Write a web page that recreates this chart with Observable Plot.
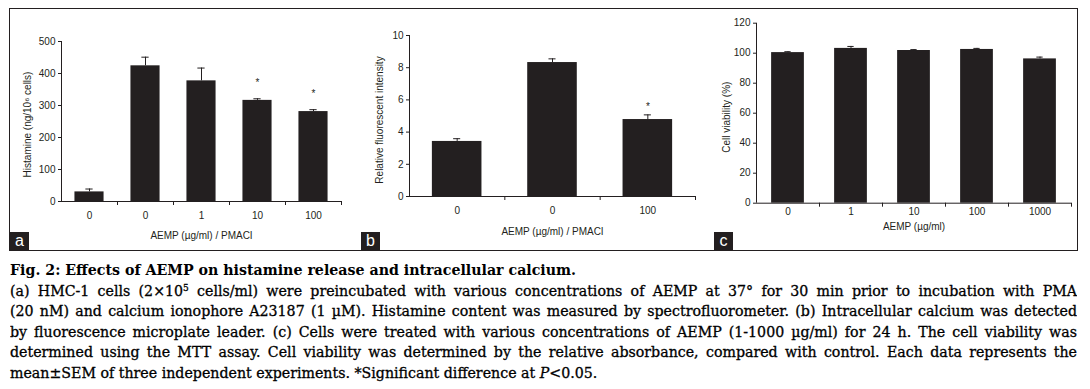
<!DOCTYPE html>
<html>
<head>
<meta charset="utf-8">
<script src="https://cdn.jsdelivr.net/npm/d3@7"></script>
<script src="https://cdn.jsdelivr.net/npm/@observablehq/plot@0.6"></script>
<style>
  html, body { margin: 0; padding: 0; background: #fff; }
  #root { position: relative; width: 1090px; height: 389px; overflow: hidden; background: #fff; }
  #box { position: absolute; left: 9px; top: 8px; width: 1069px; height: 243px; box-sizing: border-box; border: 1.5px solid #231f20; }
  .panel { position: absolute; top: 10px; }
  .plab { position: absolute; top: 232px; width: 19px; height: 18px; background: #231f20; color: #fff;
          font-family: "Liberation Sans", Arial, sans-serif; font-size: 16px; line-height: 18px; text-align: center; z-index: 5; }
  #caption { position: absolute; left: 10px; top: 260px; width: 1067px; font-family: "DejaVu Serif", serif;
             font-size: 14.2px; line-height: 20.6px; color: #000; -webkit-text-stroke: 0.3px #000; }
  #caption .j { text-align: justify; text-align-last: justify; white-space: nowrap; overflow: hidden; }
  #caption .t { font-weight: bold; -webkit-text-stroke: 0; }
  sup { font-size: 9px; line-height: 0; vertical-align: 5px; }
</style>
</head>
<body>
<div id="root">
  <div id="box"></div>
  <div id="pa" class="panel" style="left:10px"></div>
  <div id="pb" class="panel" style="left:361px"></div>
  <div id="pc" class="panel" style="left:714px"></div>
  <div class="plab" style="left:10px">a</div>
  <div class="plab" style="left:361px">b</div>
  <div class="plab" style="left:714px">c</div>
  <div id="caption">
    <div class="t">Fig. 2: Effects of AEMP on histamine release and intracellular calcium.</div>
    <div class="j">(a) HMC-1 cells (2×10<sup>5</sup> cells/ml) were preincubated with various concentrations of AEMP at 37° for 30 min prior to incubation with PMA</div>
    <div class="j">(20 nM) and calcium ionophore A23187 (1 µM). Histamine content was measured by spectrofluorometer. (b) Intracellular calcium was detected</div>
    <div class="j">by fluorescence microplate leader. (c) Cells were treated with various concentrations of AEMP (1-1000 µg/ml) for 24 h. The cell viability was</div>
    <div class="j">determined using the MTT assay. Cell viability was determined by the relative absorbance, compared with control. Each data represents the</div>
    <div>mean±SEM of three independent experiments. *Significant difference at <i>P</i>&lt;0.05.</div>
  </div>
</div>
<script>
// Panel a: histamine release
const aCats = ["0", "0", "1", "10", "100"];
const aVals = [30, 424, 377, 316, 281];
const aErr  = [9, 27, 40, 5, 6];
const aSig  = [false, false, false, true, true];
const aTicks = [0, 100, 200, 300, 400, 500];

// Panel b: intracellular calcium
const bCats = ["0", "0", "100"];
const bVals = [3.42, 8.32, 4.78];
const bErr  = [0.17, 0.23, 0.29];
const bSig  = [false, false, true];
const bTicks = [0, 2, 4, 6, 8, 10];

// Panel c: cell viability
const cCats = ["0", "1", "10", "100", "1000"];
const cVals = [100.4, 103.2, 101.8, 102.5, 96.2];
const cErr  = [0.6, 1.3, 0.6, 0.7, 1.2];
const cSig  = [false, false, false, false, false];
const cTicks = [0, 20, 40, 60, 80, 100, 120];

const INK = "#231f20";

function panel(o) {
  const n = o.cats.length;
  const data = o.cats.map((c, i) => ({i, c, v: o.vals[i], e: o.errs[i], s: o.sig[i]}));
  const yMax = o.ticks[o.ticks.length - 1];
  return Plot.plot({
    width: o.width, height: o.height,
    marginLeft: o.ml, marginRight: o.mr, marginTop: o.mt, marginBottom: o.mb,
    style: {fontFamily: "'Liberation Sans', Arial, sans-serif", fontSize: "9.5px", color: INK, background: "transparent", overflow: "visible"},
    x: {type: "linear", domain: [0, n]},
    y: {domain: [0, yMax]},
    marks: [
      Plot.rectY(data, {x1: d => d.i + 0.24, x2: d => d.i + 0.76, y1: 0, y2: "v", fill: INK}),
      Plot.ruleX(data, {x: d => d.i + 0.5, y1: "v", y2: d => d.v + d.e, stroke: INK, strokeWidth: 1}),
      Plot.ruleY(data, {y: d => d.v + d.e, x1: d => d.i + 0.5 - o.cap, x2: d => d.i + 0.5 + o.cap, stroke: INK, strokeWidth: 1}),
      Plot.text(data.filter(d => d.s), {x: d => d.i + 0.5, y: d => d.v + d.e, text: () => "*", dy: o.starDy, fontSize: 10, fill: INK}),
      Plot.ruleX([0], {y1: 0, y2: yMax, stroke: INK, strokeWidth: 1}),
      Plot.ruleY([0], {x1: 0, x2: n, stroke: INK, strokeWidth: 1}),
      Plot.axisY({ticks: o.ticks, tickSize: 3, tickPadding: 3, label: null, stroke: INK, fontSize: 10}),
      Plot.axisX({ticks: d3.range(1, n + 1), tickSize: 4, tickFormat: () => "", label: null, stroke: INK}),
      Plot.axisX({ticks: o.cats.map((_, i) => i + 0.5), tickSize: 0, tickPadding: o.tp, fontSize: 10,
                  tickFormat: v => o.cats[Math.round(v - 0.5)], label: null}),
      Plot.text([o.xlabel], {frameAnchor: "bottom", dy: o.xlDy, fill: INK, fontSize: 10}),
      Plot.text([o.ylabel], {frameAnchor: "left", textAnchor: "middle", rotate: -90, dx: o.ylDx, dy: o.ylDy, fill: INK, fontSize: 10})
    ]
  });
}

document.getElementById("pa").append(panel({
  cats: aCats, vals: aVals, errs: aErr, sig: aSig, ticks: aTicks,
  width: 350, height: 240, ml: 51, mr: 19, mt: 31, mb: 49,
  cap: 0.065, starDy: -16, tp: 10, xlDy: 37, ylDx: -34, ylDy: 3,
  xlabel: "AEMP (µg/ml) / PMACI", ylabel: "Histamine (ng/10⁶ cells)"
}));
document.getElementById("pb").append(panel({
  cats: bCats, vals: bVals, errs: bErr, sig: bSig, ticks: bTicks,
  width: 352, height: 240, ml: 48, mr: 18, mt: 25, mb: 54,
  cap: 0.037, starDy: -8, tp: 10, xlDy: 38, ylDx: -30, ylDy: 4,
  xlabel: "AEMP (µg/ml) / PMACI", ylabel: "Relative fluorescent intensity"
}));
document.getElementById("pc").append(panel({
  cats: cCats, vals: cVals, errs: cErr, sig: cSig, ticks: cTicks,
  width: 362, height: 240, ml: 42, mr: 5, mt: 12.7, mb: 47.3,
  cap: 0.05, starDy: -8, tp: 5, xlDy: 27, ylDx: -30, ylDy: 4,
  xlabel: "AEMP (µg/ml)", ylabel: "Cell viability (%)"
}));

// shrink any justified caption line that would overflow its width
document.querySelectorAll("#caption .j").forEach(el => {
  let fs = parseFloat(getComputedStyle(el).fontSize);
  while (el.scrollWidth > el.clientWidth + 0.5 && fs > 10) {
    fs -= 0.1;
    el.style.fontSize = fs + "px";
  }
});
</script>
</body>
</html>
